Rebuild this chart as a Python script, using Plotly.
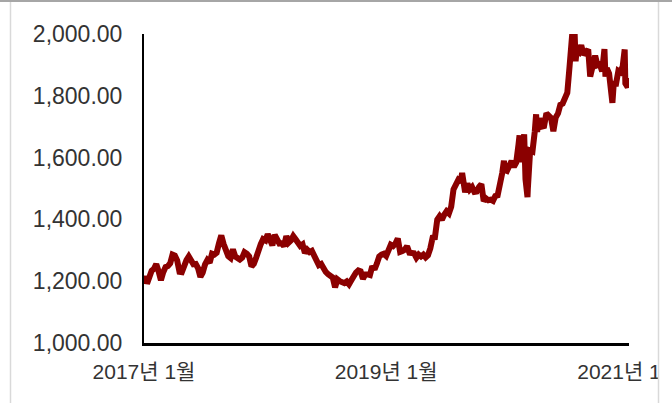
import pandas as pd
import plotly.graph_objects as go

# Gold price observations (USD/oz), roughly weekly
week_dates = [
    # 2017
    "2017-01-18", "2017-01-20", "2017-01-24", "2017-01-27",
    "2017-02-03", "2017-02-10", "2017-02-17", "2017-02-24",
    "2017-03-03", "2017-03-10", "2017-03-17", "2017-03-24", "2017-03-31",
    "2017-04-07", "2017-04-14", "2017-04-21", "2017-04-28",
    "2017-05-05", "2017-05-12", "2017-05-19", "2017-05-26",
    "2017-06-02", "2017-06-09", "2017-06-16", "2017-06-23", "2017-06-30",
    "2017-07-07", "2017-07-14", "2017-07-21", "2017-07-28",
    "2017-08-04", "2017-08-11", "2017-08-18", "2017-08-25",
    "2017-09-01", "2017-09-08", "2017-09-15", "2017-09-22", "2017-09-29",
    "2017-10-06", "2017-10-13", "2017-10-20", "2017-10-27",
    "2017-11-03", "2017-11-10", "2017-11-17", "2017-11-24",
    "2017-12-01", "2017-12-08", "2017-12-15", "2017-12-22", "2017-12-29",
    # 2018
    "2018-01-05", "2018-01-12", "2018-01-19", "2018-01-26",
    "2018-02-02", "2018-02-09", "2018-02-16", "2018-02-23",
    "2018-03-02", "2018-03-09", "2018-03-16", "2018-03-23", "2018-03-30",
    "2018-04-06", "2018-04-13", "2018-04-20", "2018-04-27",
    "2018-05-04", "2018-05-11", "2018-05-18", "2018-05-25",
    "2018-06-01", "2018-06-08", "2018-06-15", "2018-06-22", "2018-06-29",
    "2018-07-06", "2018-07-13", "2018-07-20", "2018-07-27",
    "2018-08-03", "2018-08-10", "2018-08-17", "2018-08-24", "2018-08-31",
    "2018-09-07", "2018-09-14", "2018-09-21", "2018-09-28",
    "2018-10-05", "2018-10-12", "2018-10-19", "2018-10-26",
    "2018-11-02", "2018-11-09", "2018-11-16", "2018-11-23", "2018-11-30",
    "2018-12-07", "2018-12-14", "2018-12-21", "2018-12-28",
    # 2019
    "2019-01-04", "2019-01-11", "2019-01-18", "2019-01-25",
    "2019-02-01", "2019-02-08", "2019-02-15", "2019-02-22",
    "2019-03-01", "2019-03-08", "2019-03-15", "2019-03-22", "2019-03-29",
    "2019-04-05", "2019-04-12", "2019-04-19", "2019-04-26",
    "2019-05-03", "2019-05-10", "2019-05-17", "2019-05-24", "2019-05-31",
    "2019-06-07", "2019-06-14", "2019-06-21", "2019-06-28",
    "2019-07-05", "2019-07-12", "2019-07-19", "2019-07-26",
    "2019-08-02", "2019-08-09", "2019-08-16", "2019-08-23", "2019-08-30",
    "2019-09-04", "2019-09-13", "2019-09-20", "2019-09-27",
    "2019-10-04", "2019-10-11", "2019-10-18", "2019-10-25",
    "2019-11-01", "2019-11-08", "2019-11-15", "2019-11-22", "2019-11-29",
    "2019-12-06", "2019-12-13", "2019-12-20", "2019-12-27",
    # 2020
    "2020-01-03", "2020-01-08", "2020-01-10", "2020-01-17", "2020-01-24", "2020-01-31",
    "2020-02-07", "2020-02-14", "2020-02-21", "2020-02-24", "2020-02-28",
    "2020-03-06", "2020-03-09", "2020-03-13", "2020-03-19", "2020-03-20", "2020-03-27",
    "2020-04-03", "2020-04-10", "2020-04-14", "2020-04-17", "2020-04-24",
    "2020-05-01", "2020-05-08", "2020-05-15", "2020-05-22", "2020-05-29",
    "2020-06-05", "2020-06-12", "2020-06-19", "2020-06-26",
    "2020-07-03", "2020-07-10", "2020-07-17", "2020-07-24", "2020-07-31",
    "2020-08-06", "2020-08-11", "2020-08-14", "2020-08-21", "2020-08-28",
    "2020-09-04", "2020-09-11", "2020-09-18", "2020-09-24",
    "2020-10-02", "2020-10-09", "2020-10-16", "2020-10-23", "2020-10-30",
    "2020-11-06", "2020-11-09", "2020-11-13", "2020-11-20", "2020-11-27", "2020-11-30",
    "2020-12-04", "2020-12-11", "2020-12-18", "2020-12-24", "2020-12-31",
    # 2021
    "2021-01-06", "2021-01-08", "2021-01-11", "2021-01-15", "2021-01-19",
]

gold_price = [
    # 2017
    1195, 1206, 1216, 1192,
    1220, 1234, 1240, 1255,
    1232, 1203, 1229, 1246, 1249,
    1258, 1286, 1283, 1267,
    1230, 1229, 1254, 1268,
    1280, 1268, 1255, 1256, 1242,
    1214, 1228, 1254, 1268,
    1260, 1289, 1286, 1292,
    1323, 1348, 1320, 1296, 1281,
    1275, 1303, 1280, 1272,
    1270, 1276, 1294, 1289,
    1280, 1248, 1256, 1276, 1302,
    # 2018
    1320, 1336, 1332, 1352,
    1334, 1316, 1350, 1330,
    1322, 1323, 1313, 1346, 1325,
    1332, 1346, 1336, 1323,
    1314, 1319, 1291, 1302,
    1294, 1298, 1280, 1270, 1252,
    1256, 1241, 1230, 1223,
    1214, 1212, 1180, 1206, 1200,
    1197, 1194, 1199, 1190,
    1203, 1221, 1228, 1235,
    1232, 1208, 1222, 1222, 1220,
    1248, 1238, 1257, 1280,
    # 2019
    1286, 1289, 1282, 1300,
    1318, 1314, 1322, 1338,
    1295, 1298, 1302, 1313, 1292,
    1291, 1290, 1276, 1286,
    1280, 1286, 1277, 1284, 1306,
    1341, 1342, 1399, 1410,
    1399, 1415, 1426, 1419,
    1441, 1497, 1514, 1527, 1520,
    1550, 1488, 1516, 1497,
    1505, 1489, 1490, 1505,
    1514, 1459, 1468, 1462, 1464,
    1460, 1476, 1478, 1511,
    # 2020
    1551, 1590, 1560, 1557, 1571, 1589,
    1570, 1584, 1643, 1672, 1585,
    1673, 1675, 1530, 1472, 1498, 1623,
    1620, 1685, 1740, 1684, 1727,
    1700, 1702, 1743, 1735, 1728,
    1685, 1730, 1743, 1771,
    1775, 1798, 1810, 1897, 1975,
    2067, 1912, 1944, 1940, 1964,
    1933, 1940, 1950, 1862,
    1900, 1930, 1899, 1902, 1879,
    1951, 1862, 1889, 1872, 1788, 1777,
    1839, 1839, 1881, 1877, 1895,
    # 2021
    1950, 1840, 1830, 1828, 1858,
]

tick_dates = ["2017-01-18", "2019-01-18", "2021-01-18"]
tick_labels = ["2017년 1월", "2019년 1월", "2021년 1월"]
y_ticks = [1000, 1200, 1400, 1600, 1800, 2000]

W, H = 672, 403
L, R, T, B = 144, 43, 34, 60
plot_w = W - L - R
plot_h = H - T - B


def px_x(p):
    return (p - L) / plot_w


def px_y(p):
    return (H - B - p) / plot_h


fig = go.Figure()
fig.add_trace(go.Scatter(
    x=pd.to_datetime(week_dates),
    y=gold_price,
    mode="lines",
    line=dict(color="#8B0000", width=6),
    hoverinfo="skip",
    showlegend=False,
))

font_family = "Liberation Sans, Arial, Noto Sans CJK KR, sans-serif"

fig.update_layout(
    width=W,
    height=H,
    autosize=False,
    margin=dict(l=L, r=R, t=T, b=B, pad=0, autoexpand=False),
    paper_bgcolor="white",
    plot_bgcolor="white",
    font=dict(family=font_family, color="#333333"),
    xaxis=dict(
        type="date",
        range=["2017-01-18", "2021-01-19"],
        tickvals=tick_dates,
        ticktext=tick_labels,
        tickfont=dict(size=21, family=font_family, color="#333333"),
        showgrid=False,
        zeroline=False,
        showline=True,
        linecolor="black",
        linewidth=2.5,
        ticks="",
        ticklabelstandoff=8,
        ticklabeloverflow="allow",
        automargin=False,
        fixedrange=True,
    ),
    yaxis=dict(
        range=[1000, 2000],
        tickvals=y_ticks,
        tickformat=",.2f",
        tickfont=dict(size=23, family=font_family, color="#333333"),
        showgrid=False,
        zeroline=False,
        showline=True,
        linecolor="black",
        linewidth=2,
        ticks="",
        ticklabelstandoff=15,
        automargin=False,
        fixedrange=True,
    ),
    shapes=[
        # blank strip past the chart frame on the right
        dict(type="rect", xref="paper", yref="paper", layer="above",
             x0=px_x(659), x1=px_x(W + 20), y0=px_y(H + 10), y1=px_y(2),
             fillcolor="white", line=dict(width=0)),
        # chart frame
        dict(type="line", xref="paper", yref="paper", layer="above",
             x0=px_x(0), x1=px_x(W), y0=px_y(1), y1=px_y(1),
             line=dict(color="#a6a6a6", width=2)),
        dict(type="line", xref="paper", yref="paper", layer="above",
             x0=px_x(10.5), x1=px_x(10.5), y0=px_y(2), y1=px_y(H + 10),
             line=dict(color="#d9d9d9", width=1.5)),
        dict(type="line", xref="paper", yref="paper", layer="above",
             x0=px_x(658.5), x1=px_x(658.5), y0=px_y(2), y1=px_y(H + 10),
             line=dict(color="#d9d9d9", width=1.5)),
    ],
)

fig.write_html("out.html", config={"displayModeBar": False})
